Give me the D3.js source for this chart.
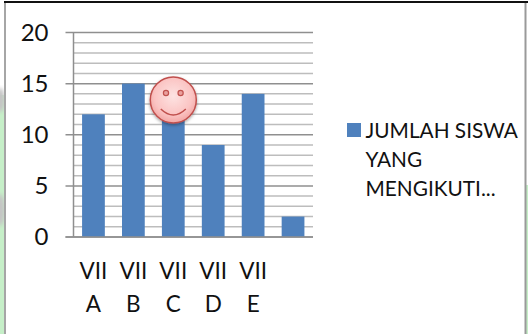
<!DOCTYPE html>
<html><head><meta charset="utf-8">
<script src="https://cdn.jsdelivr.net/npm/d3@7"></script>
<style>
html,body{margin:0;padding:0;background:#fff}
svg{display:block}
text{font-family:Lato,"Open Sans",sans-serif;fill:#111}
</style></head><body>
<script>
const categories=["VII A","VII B","VII C","VII D","VII E",""];
const values=[12,15,12,9,14,2];
const valueTicks=[0,5,10,15,20];
const minorTicks=[1,2,3,4,6,7,8,9,11,12,13,14,16,17,18,19];
const legendLines=["JUMLAH SISWA","YANG","MENGIKUTI..."];
const W=528,H=334;
const svg=d3.select("body").append("svg").attr("width",W).attr("height",H);
const defs=svg.append("defs");
const grad=defs.append("radialGradient").attr("id","face").attr("cx","50%").attr("cy","42%").attr("r","58%");
grad.append("stop").attr("offset","0%").attr("stop-color","#fde3e2");
grad.append("stop").attr("offset","70%").attr("stop-color","#fbc4c3");
grad.append("stop").attr("offset","100%").attr("stop-color","#f2a5a3");
const blur=defs.append("filter").attr("id","sh").attr("x","-30%").attr("y","-30%").attr("width","160%").attr("height","160%");
blur.append("feDropShadow").attr("dx",0).attr("dy",1.5).attr("stdDeviation",1.5).attr("flood-color","#000").attr("flood-opacity",.35);
const soft=defs.append("filter").attr("id","soft");
soft.append("feGaussianBlur").attr("stdDeviation",2);

// page and frame
svg.append("rect").attr("width",W).attr("height",H).attr("fill","#fff");
svg.append("rect").attr("x",0).attr("y",95).attr("width",5).attr("height",H-95).attr("fill","#c6efc8");
svg.append("rect").attr("x",525).attr("y",185).attr("width",3).attr("height",H-185).attr("fill","#c6efc8");
[[100,12],[210,16]].forEach(([cy,ry])=>svg.append("ellipse").attr("cx",0).attr("cy",cy).attr("rx",5).attr("ry",ry).attr("fill","#c4c4c4").attr("filter","url(#soft)"));
svg.append("path").attr("d","M4,2H528").attr("stroke","#111").attr("stroke-width",2);
svg.append("path").attr("d","M5,3V334").attr("stroke","#a6a6a6").attr("stroke-width",2);
svg.append("path").attr("d","M525.5,3V334").attr("stroke","#9a9a9a").attr("stroke-width",2);

const y=d3.scaleLinear().domain([0,20]).range([237,32.5]);
const x=d3.scaleBand().domain(categories.map((c,i)=>i)).range([73.5,313]).paddingInner(.43).paddingOuter(.215);

const grid=svg.append("g");
grid.selectAll("line.minor").data(minorTicks).join("line").attr("class","minor")
 .attr("x1",73.5).attr("x2",313).attr("y1",d=>y(d)).attr("y2",d=>y(d))
 .attr("stroke","#bdbdbd").attr("stroke-width",1.5);
grid.selectAll("line.major").data(valueTicks).join("line").attr("class","major")
 .attr("x1",65.5).attr("x2",313).attr("y1",d=>y(d)).attr("y2",d=>y(d))
 .attr("stroke","#8f8f8f").attr("stroke-width",1.5);
grid.append("line").attr("x1",73.5).attr("x2",73.5).attr("y1",y(20)).attr("y2",y(0)).attr("stroke","#8f8f8f").attr("stroke-width",1.5);

svg.append("g").selectAll("rect").data(values).join("rect")
 .attr("x",(d,i)=>x(i)).attr("width",x.bandwidth())
 .attr("y",d=>y(d)).attr("height",d=>y(0)-y(d)).attr("fill","#4f81bd");
svg.append("line").attr("x1",65.5).attr("x2",313).attr("y1",y(0)).attr("y2",y(0)).attr("stroke","#8f8f8f").attr("stroke-width",1.5);

svg.append("g").selectAll("text").data(valueTicks).join("text")
 .attr("x",48.5).attr("y",d=>y(d)+8).attr("text-anchor","end").attr("font-size",24).text(d=>d);

const cats=svg.append("g").selectAll("g").data(categories).join("g")
 .attr("transform",(d,i)=>`translate(${x(i)+x.bandwidth()/2},0)`);
cats.selectAll("text").data(d=>d?d.split(" "):[]).join("text")
 .attr("y",(d,i)=>i?312:279).attr("text-anchor","middle").attr("font-size",22.5).text(d=>d);

const lg=svg.append("g");
lg.append("rect").attr("x",347).attr("y",123).attr("width",14).attr("height",14).attr("fill","#4f81bd");
lg.selectAll("text").data(legendLines).join("text")
 .attr("x",365.5).attr("y",(d,i)=>137.5+i*29).attr("font-size",20.8).text(d=>d);

// smiley
const cx=173.3,cy=100,r=23;
const s=svg.append("g");
s.append("circle").attr("cx",cx).attr("cy",cy).attr("r",r).attr("fill","url(#face)").attr("stroke","#c0504d").attr("stroke-width",1.5).attr("filter","url(#sh)");
[-7.3,7.3].forEach(dx=>s.append("circle").attr("cx",cx+dx).attr("cy",cy-7).attr("r",2.6).attr("fill","#eaa09e").attr("stroke","#c0504d").attr("stroke-width",1.2));
const mouth=d3.path();mouth.moveTo(cx-12.5,cy+9);mouth.quadraticCurveTo(cx,cy+21,cx+12.5,cy+9);
s.append("path").attr("d",mouth.toString()).attr("fill","none").attr("stroke","#c0504d").attr("stroke-width",1.5);
</script></body></html>
